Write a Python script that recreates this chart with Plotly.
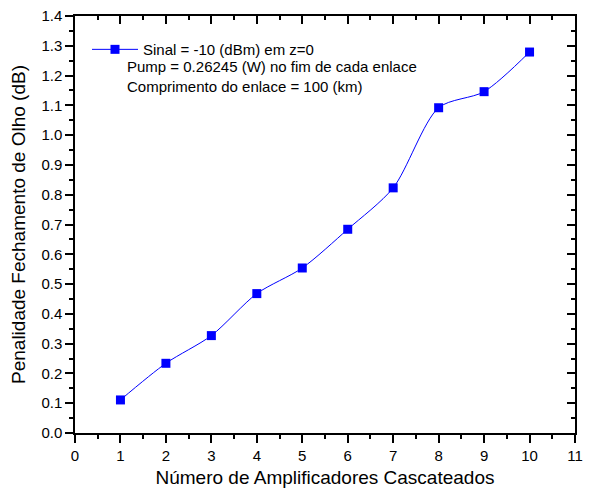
import plotly.graph_objects as go

amplificadores = [1, 2, 3, 4, 5, 6, 7, 8, 9, 10]
penalidade = [0.111, 0.234, 0.327, 0.468, 0.554, 0.684, 0.823, 1.092, 1.146, 1.279]
legend_name = "Sinal = -10 (dBm) em z=0"
extra_lines = ["Pump = 0.26245 (W) no fim de cada enlace", "Comprimento do enlace = 100 (km)"]

FONT = "Liberation Sans, Arial, sans-serif"

fig = go.Figure()
fig.add_trace(go.Scatter(
    x=amplificadores, y=penalidade, mode="lines+markers", name=legend_name,
    line=dict(color="#0000ff", width=1, shape="spline", smoothing=0.8),
    marker=dict(symbol="square", size=9, color="#0000ff"),
))

axis_common = dict(
    showgrid=False, zeroline=False, showline=True, linecolor="black", linewidth=1.5,
    ticks="outside", ticklen=8, tickwidth=1.5, tickcolor="black", automargin=False,
    tickfont=dict(family=FONT, size=15, color="black"),
)

fig.update_layout(
    width=601, height=488,
    margin=dict(l=75, r=26, t=16, b=55),
    paper_bgcolor="white", plot_bgcolor="white",
    font=dict(family=FONT, color="black"),
    xaxis=dict(range=[0, 11], dtick=1, tick0=0,
               minor=dict(dtick=0.5, ticks="outside", ticklen=4, tickwidth=1.5, tickcolor="black"),
               title=dict(text="Número de Amplificadores Cascateados", font=dict(family=FONT, size=19), standoff=8),
               **axis_common),
    yaxis=dict(range=[0, 1.4], dtick=0.1, tick0=0, tickformat=".1f",
               minor=dict(dtick=0.05, ticks="outside", ticklen=4, tickwidth=1.5, tickcolor="black"),
               title=dict(text="Penalidade Fechamento de Olho (dB)", font=dict(family=FONT, size=19), standoff=11),
               **axis_common),
    xaxis2=dict(overlaying="x", side="top", range=[0, 11], dtick=1, tick0=0, showticklabels=False,
                showgrid=False, zeroline=False, showline=True, linecolor="black", linewidth=1.5,
                ticks="inside", ticklen=8, tickwidth=1.5, tickcolor="black", automargin=False,
                minor=dict(dtick=0.5, ticks="inside", ticklen=4, tickwidth=1.5, tickcolor="black")),
    yaxis2=dict(overlaying="y", side="right", range=[0, 1.4], dtick=0.1, tick0=0, showticklabels=False,
                showgrid=False, zeroline=False, showline=True, linecolor="black", linewidth=1.5,
                ticks="inside", ticklen=8, tickwidth=1.5, tickcolor="black", automargin=False,
                minor=dict(dtick=0.05, ticks="inside", ticklen=4, tickwidth=1.5, tickcolor="black")),
    legend=dict(x=0.024, y=0.959, xanchor="left", yanchor="top", bgcolor="rgba(0,0,0,0)",
                font=dict(family=FONT, size=15, color="black"), itemwidth=46),
    showlegend=True,
)

fig.add_trace(go.Scatter(x=[None], y=[None], xaxis="x2", yaxis="y2", showlegend=False, hoverinfo="skip"))

for i, txt in enumerate(extra_lines):
    fig.add_annotation(text=txt, xref="paper", yref="paper", x=0.1, y=0.878 - i * 0.046,
                       xanchor="left", yanchor="middle", showarrow=False,
                       font=dict(family=FONT, size=15, color="black"))

fig.write_html("out.html", config={"displayModeBar": False},
               post_script="document.body.style.margin='0';document.body.style.overflow='hidden';")
